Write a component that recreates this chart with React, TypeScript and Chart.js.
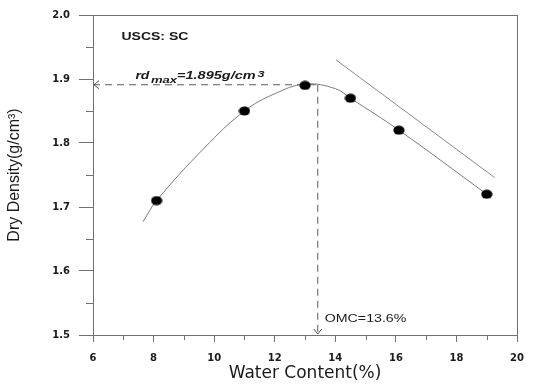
import React, { useEffect, useRef } from 'react';
import { Chart, registerables } from 'chart.js';

Chart.register(...registerables);

// ---- data ----
const xTicks = [6, 8, 10, 12, 14, 16, 18, 20];
const xMinorTicks = [7, 9, 11, 13, 15, 17, 19];
const yTicks = [1.5, 1.6, 1.7, 1.8, 1.9, 2.0];
const yMinorTicks = [1.55, 1.65, 1.75, 1.85, 1.95];

const waterContent = [8.1, 11.0, 13.0, 14.5, 16.1, 19.0];
const dryDensity = [1.71, 1.85, 1.89, 1.87, 1.82, 1.72];

const curveX = [7.65, 8.1, 9.67, 11.0, 12.0, 13.0, 14.0, 14.5, 16.1, 19.0];
const curveY = [1.677, 1.71, 1.792, 1.85, 1.877, 1.892, 1.885, 1.87, 1.82, 1.72];

const zavX = [14.02, 19.26];
const zavY = [1.93, 1.746];

const rdMaxY = 1.891;
const omcX = 13.42;

const textUSCS = 'USCS: SC';
const textRd = ['rd', 'max', '=1.895g/cm', '3'];
const textOMC = 'OMC=13.6%';
const xTitle = 'Water Content(%)';
const yTitle = 'Dry Density(g/cm³)';

const AXIS = '#707070';
const TXT = '#1a1a1a';

function stretchText(ctx: CanvasRenderingContext2D, text: string, x: number, y: number, font: string, sx: number) {
  ctx.save();
  ctx.font = font;
  ctx.translate(x, y);
  ctx.scale(sx, 1);
  ctx.fillText(text, 0, 0);
  const w = ctx.measureText(text).width * sx;
  ctx.restore();
  return w;
}

const decorPlugin = {
  id: 'decor',
  afterDatasetsDraw(chart: any) {
    const ctx: CanvasRenderingContext2D = chart.ctx;
    const xs = chart.scales.x;
    const ys = chart.scales.y;
    const a = chart.chartArea;
    ctx.save();
    ctx.strokeStyle = AXIS;
    ctx.lineWidth = 1;
    ctx.beginPath();
    ctx.moveTo(a.left, Math.round(a.top) + 0.5);
    ctx.lineTo(a.right + 0.5, Math.round(a.top) + 0.5);
    ctx.moveTo(Math.round(a.right) + 0.5, a.top);
    ctx.lineTo(Math.round(a.right) + 0.5, a.bottom + 7);
    yMinorTicks.forEach((v) => {
      const py = Math.round(ys.getPixelForValue(v)) + 0.5;
      ctx.moveTo(a.left - 7, py);
      ctx.lineTo(a.left, py);
    });
    xMinorTicks.forEach((v) => {
      const px = Math.round(xs.getPixelForValue(v)) + 0.5;
      ctx.moveTo(px, a.bottom);
      ctx.lineTo(px, a.bottom + 5);
    });
    ctx.stroke();

    ctx.strokeStyle = '#555';
    const ax = xs.getPixelForValue(xTicks[0]);
    const ay = ys.getPixelForValue(rdMaxY);
    ctx.beginPath();
    ctx.moveTo(ax + 6, ay - 4);
    ctx.lineTo(ax + 1, ay);
    ctx.lineTo(ax + 6, ay + 4);
    const bx = xs.getPixelForValue(omcX);
    const by = ys.getPixelForValue(yTicks[0]);
    ctx.moveTo(bx - 4, by - 6);
    ctx.lineTo(bx, by - 1);
    ctx.lineTo(bx + 4, by - 6);
    ctx.stroke();

    ctx.fillStyle = TXT;
    ctx.textBaseline = 'alphabetic';
    ctx.textAlign = 'left';
    const ff = '"Liberation Sans", Arial, sans-serif';
    const ux = xs.getPixelForValue(6.94);
    const uy = ys.getPixelForValue(1.961);
    stretchText(ctx, textUSCS, ux, uy, `bold 10px ${ff}`, 1.4);

    let rx = xs.getPixelForValue(7.4);
    const ry = ys.getPixelForValue(1.9);
    rx += stretchText(ctx, textRd[0], rx, ry, `italic bold 10px ${ff}`, 1.4) + 1.5;
    rx += stretchText(ctx, textRd[1], rx, ry + 4, `italic bold 9px ${ff}`, 1.45);
    rx += stretchText(ctx, textRd[2], rx, ry, `italic bold 10px ${ff}`, 1.45) + 2;
    stretchText(ctx, textRd[3], rx, ry - 2, `italic bold 9px ${ff}`, 1.4);

    const ox = xs.getPixelForValue(13.65);
    const oy = ys.getPixelForValue(1.52);
    stretchText(ctx, textOMC, ox, oy, `10px ${ff}`, 1.42);
    ctx.restore();
  },
};

export default function App() {
  const ref = useRef<HTMLCanvasElement | null>(null);
  useEffect(() => {
    document.body.style.margin = '0';
    const canvas = ref.current;
    if (!canvas) return;

    const pt = document.createElement('canvas');
    pt.width = 12;
    pt.height = 10;
    const pc = pt.getContext('2d')!;
    pc.fillStyle = '#000';
    pc.beginPath();
    pc.ellipse(6, 5, 5.6, 4.6, 0, 0, Math.PI * 2);
    pc.fill();

    const chart = new Chart(canvas, {
      type: 'scatter',
      data: {
        datasets: [
          {
            label: 'points',
            data: waterContent.map((x, i) => ({ x, y: dryDensity[i] })),
            pointStyle: pt as any,
            pointRadius: 5,
            showLine: false,
          },
          {
            label: 'curve',
            data: curveX.map((x, i) => ({ x, y: curveY[i] })),
            showLine: true,
            borderColor: '#7a7a7a',
            borderWidth: 1,
            pointRadius: 0,
            tension: 0.4,
          },
          {
            label: 'zav',
            data: zavX.map((x, i) => ({ x, y: zavY[i] })),
            showLine: true,
            borderColor: '#8a8a8a',
            borderWidth: 1,
            pointRadius: 0,
          },
          {
            label: 'rdmax',
            data: [
              { x: xTicks[0], y: rdMaxY },
              { x: omcX, y: rdMaxY },
            ],
            showLine: true,
            borderColor: '#5a5a5a',
            borderWidth: 1,
            borderDash: [7, 5],
            pointRadius: 0,
          },
          {
            label: 'omc',
            data: [
              { x: omcX, y: rdMaxY },
              { x: omcX, y: yTicks[0] },
            ],
            showLine: true,
            borderColor: '#5a5a5a',
            borderWidth: 1,
            borderDash: [7, 5],
            pointRadius: 0,
          },
        ],
      },
      options: {
        responsive: false,
        animation: false,
        layout: { padding: { top: 12, right: 7, left: 0, bottom: 0 } },
        plugins: { legend: { display: false }, tooltip: { enabled: false } },
        scales: {
          x: {
            type: 'linear',
            min: xTicks[0],
            max: xTicks[xTicks.length - 1],
            afterBuildTicks: (s: any) => {
              s.ticks = xTicks.map((v) => ({ value: v }));
            },
            afterFit: (s: any) => {
              s.height = 51;
            },
            grid: { display: true, drawOnChartArea: false, drawTicks: true, tickLength: 7, color: AXIS },
            border: { display: true, color: AXIS, width: 1 },
            ticks: {
              padding: 10,
              color: TXT,
              font: { family: '"DejaVu Sans"', size: 10, weight: 'bold' },
              callback: (v: any) => String(v),
              maxRotation: 0,
            },
            title: {
              display: true,
              text: xTitle,
              color: TXT,
              font: { family: '"DejaVu Sans"', size: 17 },
              padding: { top: 0, bottom: 2 },
            },
          },
          y: {
            type: 'linear',
            min: yTicks[0],
            max: yTicks[yTicks.length - 1],
            afterBuildTicks: (s: any) => {
              s.ticks = yTicks.map((v) => ({ value: v }));
            },
            afterFit: (s: any) => {
              s.width = 93;
            },
            grid: { display: true, drawOnChartArea: false, drawTicks: true, tickLength: 14, color: AXIS },
            border: { display: true, color: AXIS, width: 1 },
            ticks: {
              padding: 9,
              color: TXT,
              font: { family: '"DejaVu Sans"', size: 10, weight: 'bold' },
              callback: (v: any) => Number(v).toFixed(1),
            },
            title: {
              display: true,
              text: yTitle,
              color: TXT,
              font: { family: '"Liberation Sans"', size: 16 },
              padding: { top: 5, bottom: 0 },
            },
          },
        },
      },
      plugins: [decorPlugin],
    });
    return () => chart.destroy();
  }, []);

  return (
    <div style={{ width: 534, height: 386, background: '#fff' }}>
      <canvas ref={ref} width={534} height={386} style={{ display: 'block' }} />
    </div>
  );
}
